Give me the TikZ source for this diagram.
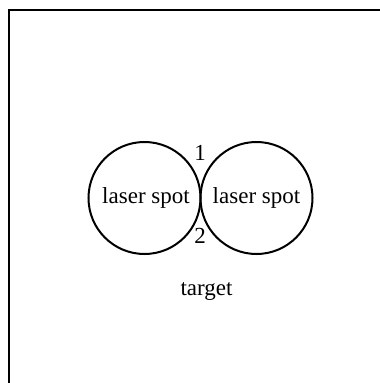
\documentclass[tikz,border=0pt]{standalone}
\usepackage{fontspec}
\setmainfont{Liberation Serif}
\begin{document}
\begin{tikzpicture}[x=1pt,y=-1pt,
  spot/.style={circle,draw,line width=2pt,minimum size=112pt,inner sep=0pt},
  lbl/.style={font=\fontsize{23}{25}\selectfont,anchor=base,inner sep=0pt}]
\useasboundingbox (0,0) rectangle (380,383);
\draw[line width=2pt] (9,390) -- (9,10) -- (390,10);
\node[spot] (L) at (144.5,198) {};
\node[spot] (R) at (256.5,198) {};
\node[lbl] (tl) at (146,203) {laser spot};
\node[lbl] (tr) at (256.5,203) {laser spot};
\node[lbl] (n1) at (200,160) {1};
\node[lbl] (n2) at (200,243) {2};
\node[lbl] (tg) at (206.5,295) {target};
\end{tikzpicture}
\end{document}
